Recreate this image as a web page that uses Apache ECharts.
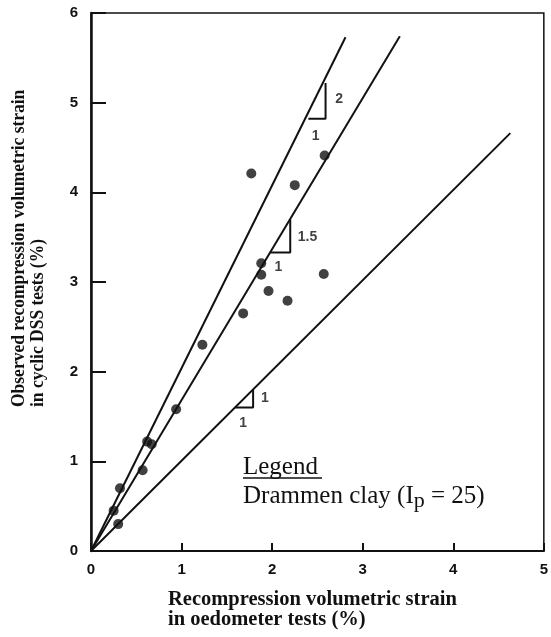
<!DOCTYPE html>
<html style="height: 100%">
   <head>
       <meta charset="utf-8">
       <script src="https://cdn.jsdelivr.net/npm/echarts@6/dist/echarts.min.js"></script>
       <title>Recompression strain</title>
   </head>
   <body style="height: 100%; margin: 0; background: #fff">
       <div id="container" style="width: 551px; height: 637px"></div>
       <script type="text/javascript">

// measured points: [oedometer strain %, cyclic DSS strain %]
let points = [
    [0.30, 0.30], [0.25, 0.45], [0.32, 0.70], [0.57, 0.90],
    [0.62, 1.22], [0.67, 1.19], [0.94, 1.58], [1.23, 2.30],
    [1.77, 4.21], [2.25, 4.08], [2.58, 4.41], [1.88, 3.21],
    [1.88, 3.08], [1.96, 2.90], [2.17, 2.79], [2.57, 3.09],
    [1.68, 2.65]
]

// reference lines through origin (end points)
let lineSteep = [[0, 0], [2.81, 5.73]]
let lineMid = [[0, 0], [3.41, 5.74]]
let lineOne = [[0, 0], [4.63, 4.66]]

// slope triangles
let triSteep = [[2.40, 4.82], [2.59, 4.82], [2.59, 5.22]]
let triMid = [[1.98, 3.33], [2.20, 3.33], [2.20, 3.70]]
let triOne = [[1.59, 1.60], [1.79, 1.60], [1.79, 1.80]]

// slope labels
let slopeLabels = [
    [2.74, 5.04, '2'], [2.48, 4.63, '1'],
    [2.39, 3.50, '1.5'], [2.07, 3.17, '1'],
    [1.92, 1.70, '1'], [1.68, 1.43, '1']
]

let xTicks = [0, 1, 2, 3, 4, 5]
let yTicks = [0, 1, 2, 3, 4, 5, 6]

function lineSeries(d) {
    return {
        type: 'line', data: d, symbol: 'none', silent: true,
        lineStyle: {color: '#111', width: 2}, z: 2
    }
}

let chart = echarts.init(document.getElementById('container'))
chart.setOption({
    animation: false,
    grid: {
        left: 91, right: 5, top: 13, bottom: 86,
        show: true, borderColor: '#111', borderWidth: 1.5
    },
    xAxis: {
        type: 'value', min: xTicks[0], max: xTicks[xTicks.length - 1], interval: 1,
        splitLine: {show: false},
        axisLine: {lineStyle: {color: '#111', width: 2}},
        axisTick: {inside: true, length: 8, lineStyle: {color: '#111', width: 2}},
        axisLabel: {color: '#111', fontFamily: 'Liberation Sans', fontWeight: 'bold', fontSize: 15, margin: 11}
    },
    yAxis: {
        type: 'value', min: yTicks[0], max: yTicks[yTicks.length - 1], interval: 1,
        splitLine: {show: false},
        axisLine: {lineStyle: {color: '#111', width: 2.5}},
        axisTick: {inside: true, length: 15, lineStyle: {color: '#111', width: 2}},
        axisLabel: {color: '#111', fontFamily: 'Liberation Sans', fontWeight: 'bold', fontSize: 15, margin: 13}
    },
    series: [
        lineSeries(lineSteep),
        lineSeries(lineMid),
        lineSeries(lineOne),
        lineSeries(triSteep),
        lineSeries(triMid),
        lineSeries(triOne),
        {
            type: 'scatter', data: points, symbol: 'circle', symbolSize: 10,
            itemStyle: {color: '#111'}, z: 3
        },
        {
            type: 'scatter', data: slopeLabels, symbolSize: 0, silent: true,
            label: {
                show: true, position: 'inside',
                formatter: p => p.data[2],
                color: '#111', fontFamily: 'Liberation Sans', fontWeight: 'bold', fontSize: 14
            }
        }
    ],
    graphic: [
        {
            type: 'text', x: 168, y: 590,
            style: {
                text: 'Recompression volumetric strain\nin oedometer tests (%)',
                font: 'bold 20.5px "Liberation Serif"', fill: '#111', lineHeight: 20,
                align: 'left', verticalAlign: 'top'
            }
        },
        {
            type: 'text', x: 10, y: 407, rotation: Math.PI / 2, scaleX: 0.92,
            style: {
                text: 'Observed recompression volumetric strain\nin cyclic DSS tests (%)',
                font: 'bold 19px "Liberation Serif"', fill: '#111', lineHeight: 19,
                align: 'left', verticalAlign: 'top'
            }
        },
        {
            type: 'text', x: 243, y: 455,
            style: {
                text: 'Legend', font: '25px "Liberation Serif"', fill: '#111',
                align: 'left', verticalAlign: 'top'
            }
        },
        {
            type: 'line', shape: {x1: 243, y1: 478, x2: 322, y2: 478},
            style: {stroke: '#111', lineWidth: 1.5}
        },
        {
            type: 'text', x: 243, y: 480,
            style: {
                text: 'Drammen clay (I{sub|p} = 25)',
                font: '25px "Liberation Serif"', fill: '#111',
                align: 'left', verticalAlign: 'top',
                rich: {
                    sub: {font: '22px "Liberation Serif"', fill: '#111', padding: [10, 0, 0, 0]}
                }
            }
        }
    ]
})

       </script>
   </body>
</html>
